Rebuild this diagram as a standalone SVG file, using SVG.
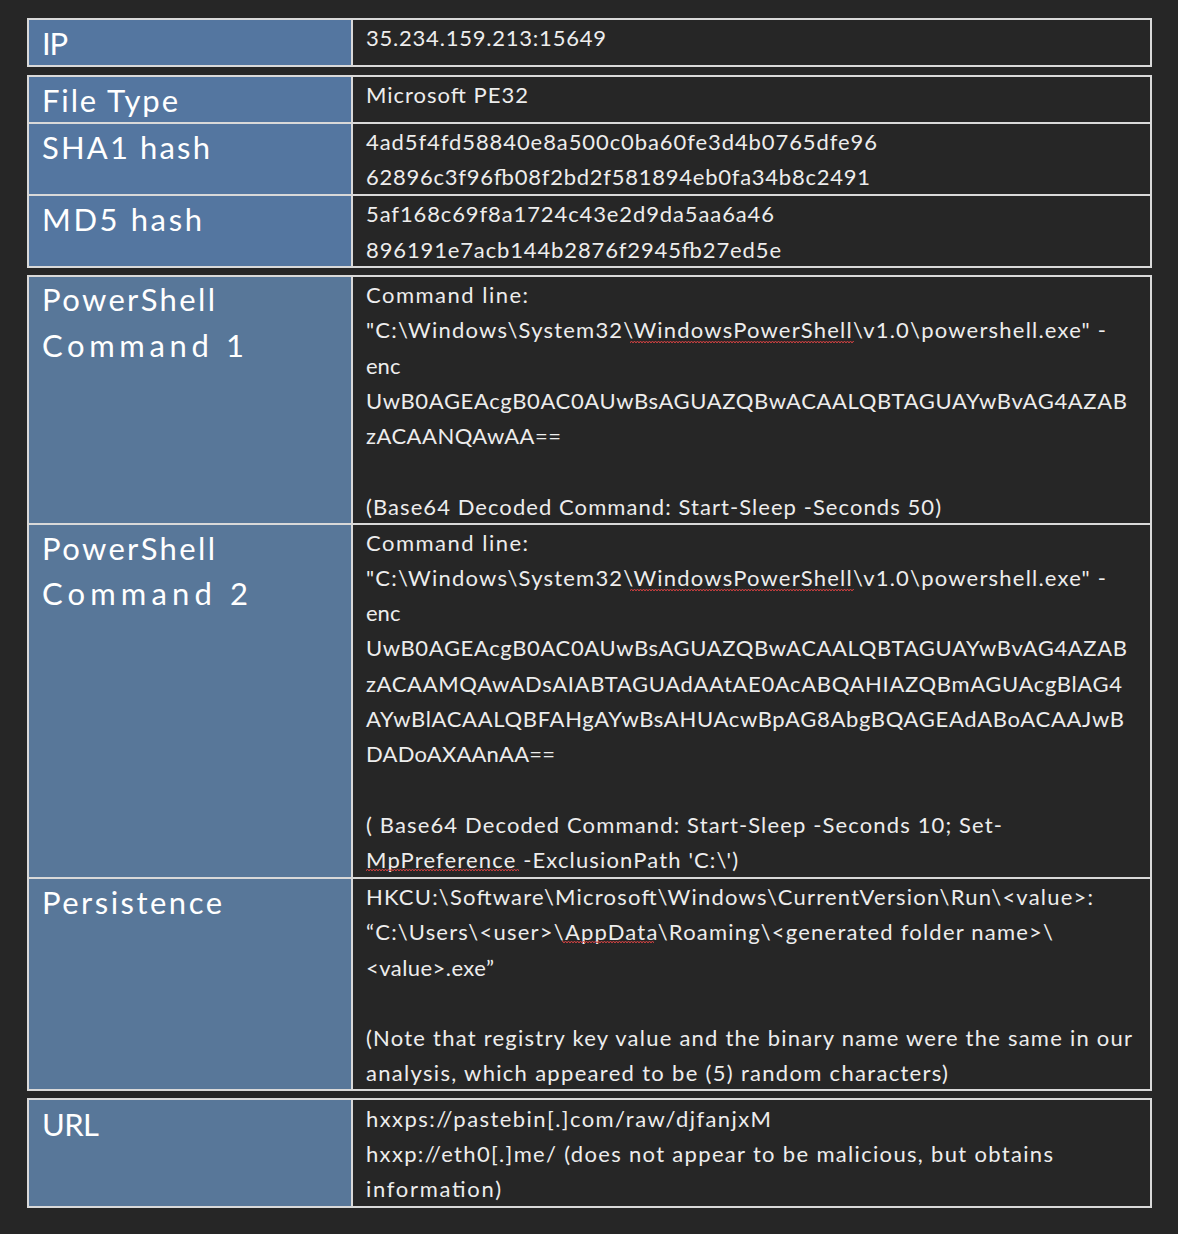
<svg xmlns="http://www.w3.org/2000/svg" width="1178" height="1234" viewBox="0 0 1178 1234">
<defs>
<style>
.bg{fill:#262626}
.k{fill:#5476a0}
.k2{fill:#587799}
.v{fill:#262626}
.ln{stroke:#d9d9d9;stroke-width:2;fill:none}
.lab{font-family:"Lato","Liberation Sans",sans-serif;font-size:31px;fill:#ffffff}
.t{font-family:"Lato","Open Sans",sans-serif;font-size:22px;fill:#ededed}
</style>
<pattern id="wv" width="6" height="4" patternUnits="userSpaceOnUse"><path d="M0 3 L1.5 1 L3 3 L4.5 1 L6 3" stroke="#d04040" stroke-width="1" fill="none"/></pattern>
</defs>
<rect class="bg" x="0" y="0" width="1178" height="1234"/>
<g id="t1">
<rect class="k" x="28" y="19" width="324" height="47"/><rect class="v" x="352" y="19" width="799" height="47"/>
<rect class="ln" x="28" y="19" width="1123" height="47"/><line class="ln" x1="352" y1="19" x2="352" y2="66"/>
<text class="lab" x="42" y="55" textLength="26">IP</text><text class="t" x="366" y="46" textLength="240">35.234.159.213:15649</text>
</g>
<g id="t2">
<rect class="k" x="28" y="76" width="324" height="191"/>
<rect class="ln" x="28" y="76" width="1123" height="191"/><line class="ln" x1="352" y1="76" x2="352" y2="267"/>
<line class="ln" x1="28" y1="123" x2="1151" y2="123"/><line class="ln" x1="28" y1="195" x2="1151" y2="195"/>
<text class="lab" x="42" y="112" textLength="136">File Type</text><text class="t" x="366" y="103" textLength="162">Microsoft PE32</text>
<text class="lab" x="42" y="159" textLength="168">SHA1 hash</text><text class="t" x="366" y="150" textLength="511">4ad5f4fd58840e8a500c0ba60fe3d4b0765dfe96</text><text class="t" x="366" y="185" textLength="504">62896c3f96fb08f2bd2f581894eb0fa34b8c2491</text>
<text class="lab" x="42" y="231" textLength="160">MD5 hash</text><text class="t" x="366" y="222" textLength="408">5af168c69f8a1724c43e2d9da5aa6a46</text><text class="t" x="366" y="258" textLength="415">896191e7acb144b2876f2945fb27ed5e</text>
</g>
<g id="t3">
<rect class="k2" x="28" y="276" width="324" height="814"/>
<rect class="ln" x="28" y="276" width="1123" height="814"/><line class="ln" x1="352" y1="276" x2="352" y2="1090"/>
<line class="ln" x1="28" y1="524" x2="1151" y2="524"/><line class="ln" x1="28" y1="878" x2="1151" y2="878"/>
<text class="lab" x="42" y="311" textLength="173">PowerShell</text><text class="lab" x="42" y="357" textLength="202">Command 1</text>
<text class="t" x="366" y="303" textLength="162">Command line:</text>
<text class="t" x="366" y="338" textLength="740">"C:\Windows\System32\WindowsPowerShell\v1.0\powershell.exe" -</text>
<text class="t" x="366" y="374">enc</text>
<text class="t" x="366" y="409" textLength="761">UwB0AGEAcgB0AC0AUwBsAGUAZQBwACAALQBTAGUAYwBvAG4AZAB</text>
<text class="t" x="366" y="444" textLength="195">zACAANQAwAA==</text>
<text class="t" x="366" y="515" textLength="575">(Base64 Decoded Command: Start-Sleep -Seconds 50)</text>
<text class="lab" x="42" y="560" textLength="173">PowerShell</text><text class="lab" x="42" y="605" textLength="206">Command 2</text>
<text class="t" x="366" y="551" textLength="162">Command line:</text>
<text class="t" x="366" y="586" textLength="740">"C:\Windows\System32\WindowsPowerShell\v1.0\powershell.exe" -</text>
<text class="t" x="366" y="621">enc</text>
<text class="t" x="366" y="656" textLength="761">UwB0AGEAcgB0AC0AUwBsAGUAZQBwACAALQBTAGUAYwBvAG4AZAB</text>
<text class="t" x="366" y="692" textLength="756">zACAAMQAwADsAIABTAGUAdAAtAE0AcABQAHIAZQBmAGUAcgBlAG4</text>
<text class="t" x="366" y="727" textLength="758">AYwBlACAALQBFAHgAYwBsAHUAcwBpAG8AbgBQAGEAdABoACAAJwB</text>
<text class="t" x="366" y="762" textLength="189">DADoAXAAnAA==</text>
<text class="t" x="366" y="833" textLength="636">( Base64 Decoded Command:  Start-Sleep -Seconds 10; Set-</text>
<text class="t" x="366" y="868" textLength="372">MpPreference -ExclusionPath 'C:\')</text>
<text class="lab" x="42" y="914" textLength="180">Persistence</text>
<text class="t" x="366" y="905" textLength="727">HKCU:\Software\Microsoft\Windows\CurrentVersion\Run\&lt;value&gt;:</text>
<text class="t" x="366" y="940" textLength="687">“C:\Users\&lt;user&gt;\AppData\Roaming\&lt;generated folder name&gt;\</text>
<text class="t" x="366" y="976" textLength="128">&lt;value&gt;.exe”</text>
<text class="t" x="366" y="1046" textLength="766">(Note that registry key value and the binary name were the same in our</text>
<text class="t" x="366" y="1081" textLength="582">analysis, which appeared to be (5) random characters)</text>
<rect x="630" y="339" width="224" height="4" fill="url(#wv)"/>
<rect x="630" y="587" width="224" height="4" fill="url(#wv)"/>
<rect x="366" y="869" width="153" height="4" fill="url(#wv)"/>
<rect x="562" y="941" width="92" height="4" fill="url(#wv)"/>
</g>
<g id="t4">
<rect class="k2" x="28" y="1099" width="324" height="108"/>
<rect class="ln" x="28" y="1099" width="1123" height="108"/><line class="ln" x1="352" y1="1099" x2="352" y2="1207"/>
<text class="lab" x="42" y="1136" textLength="57">URL</text>
<text class="t" x="366" y="1127" textLength="405">hxxps://pastebin[.]com/raw/djfanjxM</text>
<text class="t" x="366" y="1162" textLength="687">hxxp://eth0[.]me/ (does not appear to be malicious, but obtains</text>
<text class="t" x="366" y="1197" textLength="135">information)</text>
</g>
</svg>
